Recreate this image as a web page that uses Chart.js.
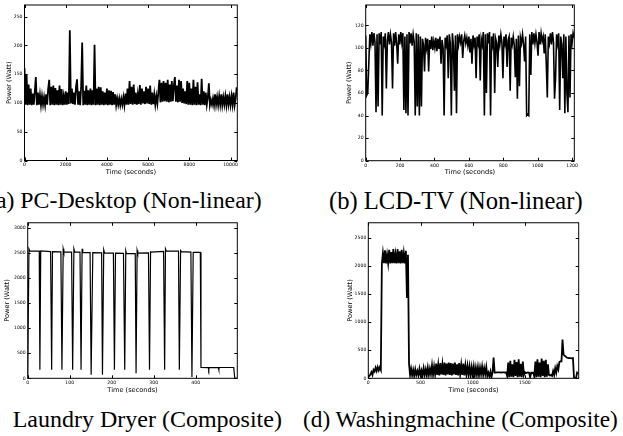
<!DOCTYPE html>
<html>
<head>
<meta charset="utf-8">
<script src="https://cdn.jsdelivr.net/npm/chart.js@4.4.1/dist/chart.umd.min.js"></script>
<style>
  html, body { margin: 0; padding: 0; background: #fff; }
  body { width: 623px; height: 436px; position: relative; overflow: hidden; }
  canvas { position: absolute; }
  .cap { position: absolute; font-family: 'Liberation Serif', 'Times New Roman', serif; line-height: 1; white-space: nowrap; color: #000; }
</style>
</head>
<body>
<canvas id="pc" width="250" height="180" style="left:0;top:0"></canvas>
<canvas id="tv" width="250" height="180" style="left:340px;top:0"></canvas>
<canvas id="dryer" width="250" height="180" style="left:0;top:218px"></canvas>
<canvas id="wash" width="250" height="180" style="left:340px;top:218px"></canvas>
<div class="cap" style="left:-12px;top:189px;font-size:23.8px">(a) PC-Desktop (Non-linear)</div>
<div class="cap" style="left:329px;top:188.5px;font-size:24.6px">(b) LCD-TV (Non-linear)</div>
<div class="cap" style="left:-32px;top:407px;font-size:24px">(c)&nbsp;&nbsp; Laundry Dryer (Composite)</div>
<div class="cap" style="left:303px;top:407.5px;font-size:23.3px">(d) Washingmachine (Composite)</div>
<script>
// (a) PC-Desktop, one reading every 50 s
var pcStep = 50;
var pcPower = [
  160,97,150,96,132,97,125,96,116,97,120,145,96,118,97,114,96,112,97,110,
  96,115,97,125,140,96,128,97,130,96,126,97,122,96,130,97,124,96,112,97,
  120,97,118,98,226,99,125,98,118,97,128,141,97,120,96,128,205,96,121,97,
  130,96,122,97,125,96,122,97,201,96,125,97,128,96,127,97,120,96,118,97,
  125,96,122,97,121,96,119,97,115,96,108,97,108,96,107,97,110,96,116,97,
  125,97,138,98,128,97,132,98,118,97,115,98,131,97,125,99,120,98,128,99,
  125,98,130,97,118,98,115,97,112,99,120,140,101,135,102,138,103,135,102,140,
  101,132,102,138,103,130,145,102,130,101,140,102,138,100,125,99,120,98,138,97,
  135,97,125,96,140,97,128,96,136,97,115,96,142,97,120,96,118,97,110,134,
  96,105,97,108,96,115,97,110,96,112,97,115,96,110,97,112,96,115,97,110,
  96,112,97,118,96,108,127
];
var pcTimeTicks = [0, 2000, 4000, 6000, 8000, 10000];
var pcPowerTicks = [0, 50, 100, 150, 200, 250];

// (b) LCD-TV, one reading every 6 s
var tvStep = 6;
var tvPower = [
  111,58,60,86,112,104,114,102,113,105,
  43,112,48,113,103,114,40,110,104,113,
  64,106,114,103,112,105,64,113,102,114,
  104,86,112,103,114,105,113,45,110,42,
  112,40,114,104,113,102,112,105,40,113,
  48,112,40,110,48,108,103,79,109,100,
  108,79,107,99,110,98,106,100,109,97,
  108,99,110,86,107,100,40,109,103,111,
  73,112,104,40,113,102,62,111,42,112,
  103,110,105,112,91,106,111,104,109,102,
  110,96,108,86,111,103,109,73,110,104,
  112,71,108,103,114,40,112,60,113,104,
  114,40,110,103,113,60,108,104,83,111,
  103,112,105,73,110,104,112,83,107,110,
  62,109,103,110,102,74,108,55,111,66,
  109,104,112,103,88,110,40,41,40,112,
  76,114,103,113,104,112,105,93,114,103,
  113,106,110,95,112,86,56,110,104,113,
  103,114,105,55,73,112,104,113,45,110,
  103,73,112,42,110,60,43,111,56,112,
  104,113,109
];
var tvTimeTicks = [0, 200, 400, 600, 800, 1000, 1200];
var tvPowerTicks = [0, 20, 40, 60, 80, 100, 120];

// (c) Laundry dryer, change points
var dryerTime = [0,3,5, 27.5,29,31, 54.5,57,59, 79,81.5,84.5,86, 104.5,107,110,112,
  124.5,127,129.5,131, 148.5,151,155, 176,178,181,183, 204,206.5,209, 228,231,233.5,235,
  256,258,260.5,262, 287.5,290,292.5,294, 323.5,326,328,330, 359,361,364,366,
  388.5,391,394, 411,412.5, 430,431,432, 454,455,456, 490.5,493,499];
var dryerPower = [20,2580,2540, 2535,170,2540, 2525,170,2525, 2520,170,2580,2520, 2515,170,2580,2515,
  2515,170,2580,2510, 2505,70,2505, 2500,70,2560,2495, 2495,170,2495, 2490,170,2540,2485,
  2485,100,2550,2495, 2500,170,2520,2515, 2530,170,2580,2535, 2535,170,2545,2525,
  2515,25,2510, 2510,215, 212,172,212, 212,172,215, 215,0,0];
var dryerTimeTicks = [0, 100, 200, 300, 400];
var dryerPowerTicks = [0, 500, 1000, 1500, 2000, 2500, 3000];

// (d) Washing machine, one reading every 10 s
var washStep = 10;
var washPower = [
  50,40,70,110,60,150,120,190,130,200,140,195,150,
  2045,2230,2050,2280,2045,2200,2050,2290,2045,2250,2050,2300,2050,2210,2045,2300,2050,2260,2045,2290,2050,2230,2045,2270,
  1430,2200,
  260,60,170,50,150,40,160,60,130,50,170,
  60,140,50,180,60,160,50,190,60,170,
  70,230,60,210,70,260,60,240,50,270,
  70,250,60,280,50,260,70,280,60,270,
  50,260,70,280,60,250,50,270,70,240,
  60,260,50,230,70,220,60,210,50,200,
  60,210,50,190,60,200,50,190,70,210,
  60,180,70,200,40,100,30,120,20,110,370,100,
  100,105,105,105,105,100,105,105,105,100,105,40,
  280,20,310,30,250,20,330,40,290,20,340,30,260,20,300,60,
  110,90,100,105,100,20,100,95,100,30,
  300,20,340,30,280,20,350,40,310,20,330,30,250,60,
  50,60,45,130,60,180,100,220,160,290,
  300,300,690,420,400,390,370,365,360,360,360,355,360,
  10,5,10,100,80
];
var washTimeTicks = [0, 500, 1000, 1500];
var washPowerTicks = [0, 500, 1000, 1500, 2000, 2500];

Chart.defaults.font.family = "'DejaVu Sans', sans-serif";
Chart.defaults.color = '#000';

function stepped(values, step) {
  return values.map(function (v, i) { return { x: i * step, y: v }; });
}
function paired(xs, ys) {
  return xs.map(function (x, i) { return { x: x, y: ys[i] }; });
}

// matplotlib-like box with inward ticks on all four sides
var frameTicks = {
  id: 'frameTicks',
  afterDatasetsDraw: function (chart) {
    var ctx = chart.ctx, a = chart.chartArea;
    var xs = chart.scales.x, ys = chart.scales.y;
    ctx.save();
    ctx.strokeStyle = '#000';
    ctx.lineWidth = 1;
    ctx.beginPath();
    xs.ticks.forEach(function (t) {
      var px = Math.round(xs.getPixelForValue(t.value)) + 0.5;
      ctx.moveTo(px, a.bottom); ctx.lineTo(px, a.bottom - 3);
      ctx.moveTo(px, a.top); ctx.lineTo(px, a.top + 3);
    });
    ys.ticks.forEach(function (t) {
      var py = Math.round(ys.getPixelForValue(t.value)) + 0.5;
      ctx.moveTo(a.left, py); ctx.lineTo(a.left + 3, py);
      ctx.moveTo(a.right, py); ctx.lineTo(a.right - 3, py);
    });
    ctx.stroke();
    ctx.strokeRect(a.left, a.top, a.right - a.left, a.bottom - a.top);
    ctx.restore();
  }
};

var tickFont = { size: 4.6 };
var titleFont = { size: 6.6 };

function fixedTicks(values) {
  return function (s) { s.ticks = values.map(function (v) { return { value: v }; }); };
}

function drawPanel(id, points, o) {
  new Chart(document.getElementById(id), {
    type: 'scatter',
    data: {
      datasets: [{
        data: points,
        showLine: true,
        borderColor: '#000',
        borderWidth: o.lw,
        pointRadius: 0,
        tension: 0
      }]
    },
    options: {
      responsive: false,
      animation: false,
      devicePixelRatio: 1,
      layout: { padding: { top: o.top, right: o.right, left: 0, bottom: 0 } },
      plugins: { legend: { display: false }, tooltip: { enabled: false } },
      scales: {
        x: {
          type: 'linear', min: 0, max: o.xMax,
          grid: { display: false, drawTicks: false },
          border: { display: false },
          ticks: { autoSkip: false, maxRotation: 0, padding: 2, font: tickFont,
                   callback: function (v) { return v; } },
          afterBuildTicks: fixedTicks(o.xTicks),
          title: { display: true, text: 'Time (seconds)', font: titleFont, padding: { top: 0, bottom: 3.3 } },
          afterFit: function (s) { s.height = o.xh; }
        },
        y: {
          type: 'linear', min: 0, max: o.yMax,
          grid: { display: false, drawTicks: false },
          border: { display: false },
          ticks: { autoSkip: false, padding: 2, font: tickFont,
                   callback: function (v) { return v; } },
          afterBuildTicks: fixedTicks(o.yTicks),
          title: { display: true, text: 'Power (Watt)', font: titleFont, padding: { top: o.tp, bottom: 0 } },
          afterFit: function (s) { s.width = o.yw; }
        }
      }
    },
    plugins: [frameTicks]
  });
}

drawPanel('pc', stepped(pcPower, pcStep),
  { xMax: 10330, xTicks: pcTimeTicks, yMax: 270, yTicks: pcPowerTicks, lw: 1.8,
    yw: 24.5, top: 5, right: 12.7, xh: 19.5, tp: 5 });
drawPanel('tv', stepped(tvPower, tvStep),
  { xMax: 1213, xTicks: tvTimeTicks, yMax: 138, yTicks: tvPowerTicks, lw: 1.6,
    yw: 25.7, top: 5, right: 15.7, xh: 19.3, tp: 5.3 });
drawPanel('dryer', paired(dryerTime, dryerPower),
  { xMax: 499, xTicks: dryerTimeTicks, yMax: 3100, yTicks: dryerPowerTicks, lw: 1.2,
    yw: 27.7, top: 4, right: 12.7, xh: 19.7, tp: 3.5 });
drawPanel('wash', stepped(washPower, washStep),
  { xMax: 2015, xTicks: washTimeTicks, yMax: 2770, yTicks: washPowerTicks, lw: 1.8,
    yw: 28.3, top: 4, right: 11.3, xh: 19.7, tp: 6.3 });
</script>
</body>
</html>
